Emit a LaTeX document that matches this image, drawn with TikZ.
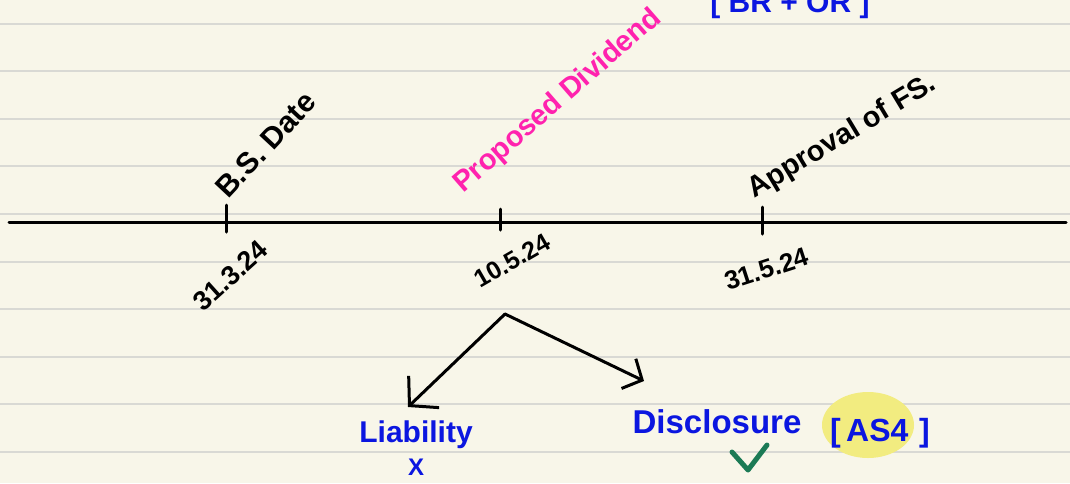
\documentclass[tikz,border=0pt]{standalone}
\usepackage{fontspec}
\setmainfont{Liberation Sans}
\usepackage{tikz}
\usetikzlibrary{arrows.meta,positioning}
\definecolor{paper}{HTML}{F8F6E9}
\definecolor{ruling}{HTML}{D9D9D4}
\definecolor{penblue}{HTML}{0B16E0}
\definecolor{penpink}{HTML}{FF22AE}
\definecolor{pengreen}{HTML}{1B7A55}
\definecolor{marker}{HTML}{F2EC80}

\begin{document}
\begin{tikzpicture}[x=1pt,y=-1pt,line cap=round,
  every node/.style={inner sep=0pt},
  hand/.style={font=\bfseries\fontsize{#1}{#1}\selectfont},
  pen/.style={line width=3pt},
  barb/.style={-{Straight Barb[length=#1,width=2.2*#1]}}]
  \clip (0,0) rectangle (1070,483);
  \fill[paper] (0,0) rectangle (1070,483);
  \foreach \k in {0,...,9}
    \draw[ruling,line width=2pt] (0,23.5+47.6*\k) -- (1070,23.5+47.6*\k);
  \coordinate (tl) at (9,222);
  \coordinate (tr) at (1066,222);
  \draw[pen] (tl) -- (tr);
  \coordinate (t1) at (226,222);
  \coordinate (t2) at (500,222);
  \coordinate (t3) at (762,222);
  \draw[pen] ([yshift=-10]t1) -- ([yshift=17]t1);
  \draw[pen] ([yshift=-8]t2) -- ([yshift=13]t2);
  \draw[pen] ([yshift=-12]t3) -- ([yshift=15]t3);
  \node[hand=30,anchor=base west,rotate=47] (bs) at (228,200) {B.S. Date};
  \node[hand=29,anchor=base west,rotate=41,text=penpink] (pd) at (463,194) {Proposed Dividend};
  \node[hand=29,anchor=base west,rotate=31] (fs) at (754,199) {Approval of FS.};
  \node[hand=27,anchor=base west,rotate=42] (d1) at (203,313) {31.3.24};
  \node[hand=25,anchor=base west,rotate=30] (d2) at (480,289) {10.5.24};
  \node[hand=26,anchor=base west,rotate=18] (d3) at (728,291) {31.5.24};
  \node[hand=30,anchor=base,text=penblue] (brd) at (790,12) {[ BR + OR ]};
  \coordinate (fork) at (505,314);
  \coordinate (ltip) at (408,407);
  \coordinate (dtip) at (644,381);
  \draw[pen,barb=20pt] (fork) -- (ltip);
  \draw[pen,barb=15pt] (fork) -- (dtip);
  \node[hand=30,anchor=base,text=penblue] (liab) at (416,442) {Liability};
  \node[hand=24,text=penblue,below=10pt of liab] (no) {X};
  \node[hand=33,anchor=base,text=penblue] (disc) at (717,433) {Disclosure};
  \fill[marker] (868,425) ellipse [x radius=46,y radius=33];
  \node[hand=32,anchor=base,text=penblue] (as) at (880,441) {[\,AS4\,\,]};
  \coordinate (ck1) at (732,452);
  \coordinate (ck2) at (748,470);
  \coordinate (ck3) at (767,445);
  \draw[pengreen,line width=5pt,line join=round] (ck1) -- (ck2) -- (ck3);
\end{tikzpicture}
\end{document}
